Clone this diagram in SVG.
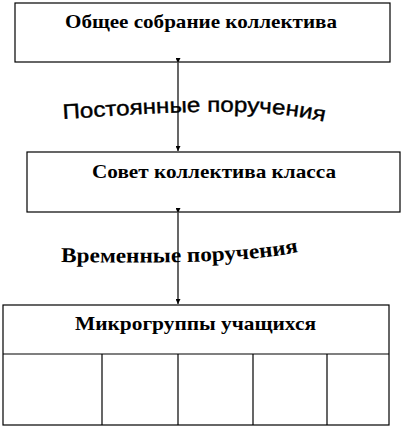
<svg xmlns="http://www.w3.org/2000/svg" width="405" height="428" viewBox="0 0 405 428">
<style>
.box{fill:#fff;stroke:#000;stroke-width:1.2}
.div{stroke:#000;stroke-width:1.2;fill:none}
.title{font-family:"Liberation Serif","Times New Roman",serif;font-weight:bold;font-size:19.5px;fill:#000}
.conn{stroke:#000;stroke-width:1.2;fill:none}
.lab1{font-family:"Liberation Sans",Arial,sans-serif;font-size:21px;fill:#000;stroke:#000;stroke-width:0.4}
.lab2{font-family:"Liberation Serif","Times New Roman",serif;font-weight:bold;font-size:21px;fill:#000}
</style>
<defs>
<marker id="ah" viewBox="0 0 10 10" refX="10" refY="5" markerWidth="5" markerHeight="5" orient="auto" markerUnits="userSpaceOnUse">
<path d="M0,0 L10,5 L0,10 z" fill="#000"/>
</marker>
<path id="p1" d="M 63,119 C 150,114 250,104 326,122"/>
<path id="p2" d="M 61,262 C 150,263 240,264 299,252"/>
</defs>
<rect width="405" height="428" fill="#fff"/>
<g id="node-general">
<rect class="box" x="15" y="3" width="375" height="59"/>
<text class="title" x="65" y="28" textLength="272" lengthAdjust="spacingAndGlyphs">Общее собрание коллектива</text>
</g>
<g id="node-council">
<rect class="box" x="27" y="152" width="373" height="60"/>
<text class="title" x="92" y="178" textLength="244" lengthAdjust="spacingAndGlyphs">Совет коллектива класса</text>
</g>
<g id="node-microgroups">
<rect class="box" x="3" y="305" width="386" height="120"/>
<line class="div" x1="3" y1="354" x2="389" y2="354"/>
<line class="div" x1="102" y1="354" x2="102" y2="425"/>
<line class="div" x1="178" y1="354" x2="178" y2="425"/>
<line class="div" x1="253" y1="354" x2="253" y2="425"/>
<line class="div" x1="327" y1="354" x2="327" y2="425"/>
<text class="title" x="75" y="330" textLength="241" lengthAdjust="spacingAndGlyphs">Микрогруппы учащихся</text>
</g>
<g id="connectors">
<line class="conn" x1="178" y1="63" x2="178" y2="151" marker-start="url(#ah)" marker-end="url(#ah)"/>
<line class="conn" x1="178" y1="213" x2="178" y2="304" marker-start="url(#ah)" marker-end="url(#ah)"/>
<text class="lab1"><textPath href="#p1" textLength="262" lengthAdjust="spacingAndGlyphs">Постоянные поручения</textPath></text>
<text class="lab2"><textPath href="#p2" textLength="238" lengthAdjust="spacingAndGlyphs">Временные поручения</textPath></text>
</g>
</svg>
